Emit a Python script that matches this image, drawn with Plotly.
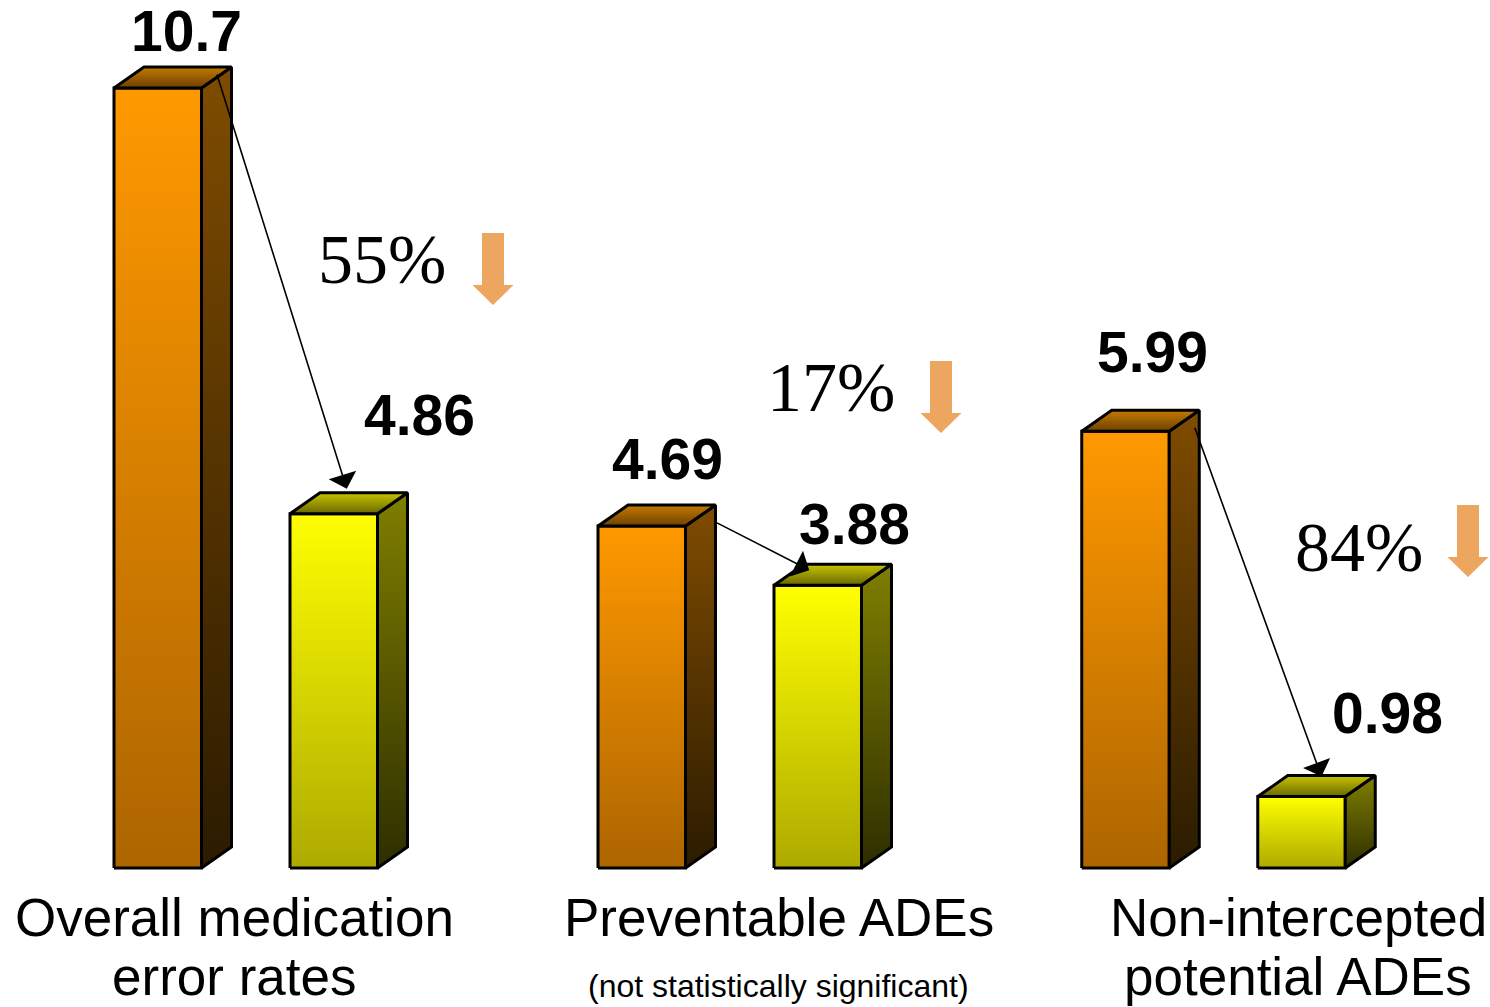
import plotly.graph_objects as go

# ---------------- data ----------------
categories = ["Overall medication error rates", "Preventable ADEs", "Non-intercepted potential ADEs"]
before_values = [10.7, 4.69, 5.99]
after_values = [4.86, 3.88, 0.98]
before_labels = ["10.7", "4.69", "5.99"]
after_labels = ["4.86", "3.88", "0.98"]
reduction_labels = ["55%", "17%", "84%"]
category_line1 = ["Overall medication", "Preventable ADEs", "Non-intercepted"]
category_line2 = ["error rates", "(not statistically significant)", "potential ADEs"]

# ---------------- layout constants (pixels) ----------------
W, H = 1490, 1007
BASE_PX = 868.0          # pixel row of value 0
PX_PER_UNIT = 72.9       # pixels per value unit
GROUP_CENTERS = [245.75, 729.75, 1213.5]
BAR_OFFSET = 88.0
BAR_W = 87.5
DEPTH_X = 30.0
DEPTH_Y = 21.0 / PX_PER_UNIT

def py(p):
    """pixel row -> y axis value"""
    return (BASE_PX - p) / PX_PER_UNIT

ORANGE = dict(front=("#AD6500", "#FF9900"), side=("#2B1B00", "#7F4C00"), top=("#6E4000", "#C47A00"))
YELLOW = dict(front=("#ADAA00", "#FFFF00"), side=("#2E2E00", "#7F7F00"), top=("#6A6800", "#C8C400"))

fig = go.Figure()

def add_face(xs, ys, cols):
    y0, y1 = min(ys), max(ys)
    fig.add_trace(go.Scatter(
        x=xs + [xs[0]], y=ys + [ys[0]], mode="lines", fill="toself",
        line=dict(color="black", width=3),
        fillgradient=dict(type="vertical", colorscale=[[0, cols[0]], [1, cols[1]]],
                          start=y0, stop=y1),
        hoverinfo="skip", showlegend=False))

def add_bar(xc, v, pal):
    xl, xr = xc - BAR_W / 2, xc + BAR_W / 2
    add_face([xl, xr, xr, xl], [0, 0, v, v], pal["front"])
    add_face([xr, xr + DEPTH_X, xr + DEPTH_X, xr], [0, DEPTH_Y, v + DEPTH_Y, v], pal["side"])
    add_face([xl, xr, xr + DEPTH_X, xl + DEPTH_X], [v, v, v + DEPTH_Y, v + DEPTH_Y], pal["top"])

for i in range(len(categories)):
    add_bar(GROUP_CENTERS[i] - BAR_OFFSET, before_values[i], ORANGE)
    add_bar(GROUP_CENTERS[i] + BAR_OFFSET, after_values[i], YELLOW)

annotations = []
SANS = "Liberation Sans, Arial, sans-serif"
SERIF = "Liberation Serif, Times New Roman, serif"

# value labels (pixel positions of label centres)
BEFORE_LABEL_POS = [(186, 31), (667.5, 459), (1152, 352)]
AFTER_LABEL_POS = [(419.5, 415), (854.5, 524), (1387, 712.5)]
for i in range(len(categories)):
    for lab, (lx, ly) in ((before_labels[i], BEFORE_LABEL_POS[i]), (after_labels[i], AFTER_LABEL_POS[i])):
        annotations.append(dict(x=lx, y=py(ly), xref="x", yref="y", text="<b>%s</b>" % lab,
                                showarrow=False, xanchor="center", yanchor="middle",
                                font=dict(family=SANS, size=57, color="black")))

# reduction percentages
PCT_POS = [(381.5, 259), (831, 387), (1358.5, 547)]
for i in range(len(categories)):
    lx, ly = PCT_POS[i]
    annotations.append(dict(x=lx, y=py(ly), xref="x", yref="y", text=reduction_labels[i],
                            showarrow=False, xanchor="center", yanchor="middle",
                            font=dict(family=SERIF, size=70, color="black")))

# category labels
CAT_X = [234, 778.5, 1298]
for i in range(len(categories)):
    annotations.append(dict(x=CAT_X[i], y=py(917), xref="x", yref="y", text=category_line1[i],
                            showarrow=False, xanchor="center", yanchor="middle",
                            font=dict(family=SANS, size=53, color="black")))
    small = category_line2[i].startswith("(")
    annotations.append(dict(x=CAT_X[i], y=py(986 if small else 976.5), xref="x", yref="y",
                            text=category_line2[i], showarrow=False, xanchor="center", yanchor="middle",
                            font=dict(family=SANS, size=32 if small else 53, color="black")))

# black arrows from the before bar to the after bar
TAIL_OFF = [(15, 15), (30, 4), (25, 5)]     # px from front-right/top corner of before bar
HEAD_OFF = [(13, 4), (-8.5, -6), (20, -1)]  # px from centre / back-top edge of after bar
for i in range(len(categories)):
    bx = GROUP_CENTERS[i] - BAR_OFFSET + BAR_W / 2
    ax_ = bx + TAIL_OFF[i][0]
    ay_ = before_values[i] + TAIL_OFF[i][1] / PX_PER_UNIT
    hx = GROUP_CENTERS[i] + BAR_OFFSET + HEAD_OFF[i][0]
    hy = after_values[i] + DEPTH_Y + HEAD_OFF[i][1] / PX_PER_UNIT
    annotations.append(dict(x=hx, y=hy, xref="x", yref="y", ax=ax_, ay=ay_, axref="x", ayref="y",
                            text="", showarrow=True, arrowhead=1, arrowsize=3.0, arrowwidth=1.6,
                            arrowcolor="black", standoff=0, startstandoff=0))

# orange down arrows (pixel anchor: centre x, top y)
DOWN_ARROW_POS = [(493, 233), (941, 361), (1468, 505)]
shapes = []
for cx, top in DOWN_ARROW_POS:
    sh, hh, hl, tot = 11, 20.5, 20, 72
    pts = [(cx - sh, top), (cx + sh, top), (cx + sh, top + tot - hl), (cx + hh, top + tot - hl),
           (cx, top + tot), (cx - hh, top + tot - hl), (cx - sh, top + tot - hl)]
    path = "M " + " L ".join("%.3f,%.5f" % (x, py(y)) for x, y in pts) + " Z"
    shapes.append(dict(type="path", path=path, xref="x", yref="y",
                       fillcolor="#EDA660", line=dict(width=0)))

fig.update_layout(
    width=W, height=H,
    margin=dict(l=0, r=0, t=0, b=0),
    paper_bgcolor="white", plot_bgcolor="white",
    xaxis=dict(range=[0, W], visible=False, fixedrange=True),
    yaxis=dict(range=[py(H), py(0)], visible=False, fixedrange=True),
    annotations=annotations, shapes=shapes,
    showlegend=False,
)

fig.write_html("out.html")
